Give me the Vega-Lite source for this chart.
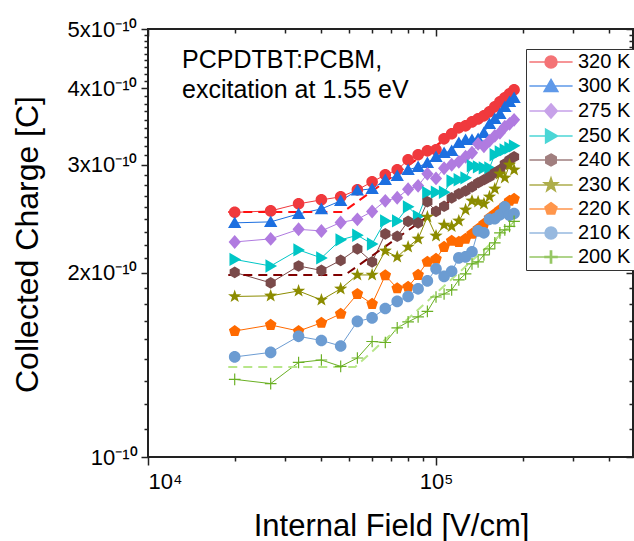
{
  "$schema": "https://vega.github.io/schema/vega-lite/v6.json",
  "autosize": {"type": "none"},
  "padding": {"left": 148, "top": 29, "right": 1, "bottom": 84},
  "width": 485,
  "height": 428,
  "background": "white",
  "config": {
    "view": {"stroke": "#222", "strokeWidth": 2},
    "font": "Liberation Sans",
    "axis": {"grid": false, "domain": false, "tickColor": "#222", "tickWidth": 1.5, "labelColor": "#000", "titleColor": "#000", "titleFontWeight": "normal", "labelFont": "Liberation Sans", "titleFont": "Liberation Sans"},
    "legend": {"title": null, "orient": "none", "legendX": 378, "legendY": 20, "strokeColor": "#333", "fillColor": "white", "padding": 3,
      "labelFont": "Liberation Sans", "labelFontSize": 20, "labelColor": "#000", "labelLimit": 200, "symbolSize": 144, "symbolStrokeWidth": 1.5, "symbolOffset": 12, "labelOffset": 17, "rowPadding": 4}
  },
  "datasets": {
    "series": [
    {"T":"320 K","E":20000,"Q":2.509e-10},{"T":"320 K","E":26667,"Q":2.523e-10},{"T":"320 K","E":33333,"Q":2.591e-10},{"T":"320 K","E":40000,"Q":2.630e-10},{"T":"320 K","E":46667,"Q":2.660e-10},{"T":"320 K","E":53333,"Q":2.731e-10},{"T":"320 K","E":60000,"Q":2.814e-10},{"T":"320 K","E":66667,"Q":2.889e-10},{"T":"320 K","E":73333,"Q":2.944e-10},{"T":"320 K","E":80000,"Q":3.057e-10},{"T":"320 K","E":86667,"Q":3.116e-10},{"T":"320 K","E":93333,"Q":3.162e-10},{"T":"320 K","E":100000,"Q":3.174e-10},{"T":"320 K","E":106667,"Q":3.308e-10},{"T":"320 K","E":113333,"Q":3.372e-10},{"T":"320 K","E":120000,"Q":3.448e-10},{"T":"320 K","E":126667,"Q":3.474e-10},{"T":"320 K","E":133333,"Q":3.526e-10},{"T":"320 K","E":140000,"Q":3.566e-10},{"T":"320 K","E":146667,"Q":3.607e-10},{"T":"320 K","E":153333,"Q":3.662e-10},{"T":"320 K","E":160000,"Q":3.731e-10},{"T":"320 K","E":166667,"Q":3.802e-10},{"T":"320 K","E":173333,"Q":3.860e-10},{"T":"320 K","E":180000,"Q":3.919e-10},{"T":"320 K","E":186667,"Q":3.978e-10},
    {"T":"300 K","E":20000,"Q":2.412e-10},{"T":"300 K","E":26667,"Q":2.421e-10},{"T":"300 K","E":33333,"Q":2.495e-10},{"T":"300 K","E":40000,"Q":2.542e-10},{"T":"300 K","E":46667,"Q":2.620e-10},{"T":"300 K","E":53333,"Q":2.726e-10},{"T":"300 K","E":60000,"Q":2.741e-10},{"T":"300 K","E":66667,"Q":2.836e-10},{"T":"300 K","E":73333,"Q":2.879e-10},{"T":"300 K","E":80000,"Q":2.944e-10},{"T":"300 K","E":86667,"Q":2.977e-10},{"T":"300 K","E":93333,"Q":3.023e-10},{"T":"300 K","E":100000,"Q":3.092e-10},{"T":"300 K","E":106667,"Q":3.139e-10},{"T":"300 K","E":113333,"Q":3.162e-10},{"T":"300 K","E":120000,"Q":3.259e-10},{"T":"300 K","E":126667,"Q":3.296e-10},{"T":"300 K","E":133333,"Q":3.296e-10},{"T":"300 K","E":140000,"Q":3.308e-10},{"T":"300 K","E":146667,"Q":3.384e-10},{"T":"300 K","E":153333,"Q":3.500e-10},{"T":"300 K","E":160000,"Q":3.566e-10},{"T":"300 K","E":166667,"Q":3.634e-10},{"T":"300 K","E":173333,"Q":3.731e-10},{"T":"300 K","E":180000,"Q":3.802e-10},{"T":"300 K","E":186667,"Q":3.860e-10},
    {"T":"275 K","E":20000,"Q":2.245e-10},{"T":"275 K","E":26667,"Q":2.271e-10},{"T":"275 K","E":33333,"Q":2.354e-10},{"T":"275 K","E":40000,"Q":2.340e-10},{"T":"275 K","E":46667,"Q":2.416e-10},{"T":"275 K","E":53333,"Q":2.444e-10},{"T":"275 K","E":60000,"Q":2.518e-10},{"T":"275 K","E":66667,"Q":2.620e-10},{"T":"275 K","E":73333,"Q":2.650e-10},{"T":"275 K","E":80000,"Q":2.736e-10},{"T":"275 K","E":86667,"Q":2.772e-10},{"T":"275 K","E":93333,"Q":2.900e-10},{"T":"275 K","E":100000,"Q":2.851e-10},{"T":"275 K","E":106667,"Q":2.961e-10},{"T":"275 K","E":113333,"Q":3.000e-10},{"T":"275 K","E":120000,"Q":3.034e-10},{"T":"275 K","E":126667,"Q":3.092e-10},{"T":"275 K","E":133333,"Q":3.139e-10},{"T":"275 K","E":140000,"Q":3.246e-10},{"T":"275 K","E":146667,"Q":3.216e-10},{"T":"275 K","E":153333,"Q":3.283e-10},{"T":"275 K","E":160000,"Q":3.345e-10},{"T":"275 K","E":166667,"Q":3.384e-10},{"T":"275 K","E":173333,"Q":3.461e-10},{"T":"275 K","E":180000,"Q":3.500e-10},{"T":"275 K","E":186667,"Q":3.553e-10},
    {"T":"250 K","E":20000,"Q":2.102e-10},{"T":"250 K","E":26667,"Q":2.051e-10},{"T":"250 K","E":33333,"Q":2.179e-10},{"T":"250 K","E":40000,"Q":2.114e-10},{"T":"250 K","E":46667,"Q":2.263e-10},{"T":"250 K","E":53333,"Q":2.302e-10},{"T":"250 K","E":60000,"Q":2.228e-10},{"T":"250 K","E":66667,"Q":2.430e-10},{"T":"250 K","E":73333,"Q":2.430e-10},{"T":"250 K","E":80000,"Q":2.562e-10},{"T":"250 K","E":86667,"Q":2.472e-10},{"T":"250 K","E":93333,"Q":2.701e-10},{"T":"250 K","E":100000,"Q":2.706e-10},{"T":"250 K","E":106667,"Q":2.706e-10},{"T":"250 K","E":113333,"Q":2.825e-10},{"T":"250 K","E":120000,"Q":2.836e-10},{"T":"250 K","E":126667,"Q":2.857e-10},{"T":"250 K","E":133333,"Q":2.988e-10},{"T":"250 K","E":140000,"Q":2.977e-10},{"T":"250 K","E":146667,"Q":2.966e-10},{"T":"250 K","E":153333,"Q":2.966e-10},{"T":"250 K","E":160000,"Q":3.116e-10},{"T":"250 K","E":166667,"Q":3.150e-10},{"T":"250 K","E":173333,"Q":3.174e-10},{"T":"250 K","E":180000,"Q":3.198e-10},{"T":"250 K","E":186667,"Q":3.222e-10},
    {"T":"240 K","E":20000,"Q":2.002e-10},{"T":"240 K","E":26667,"Q":1.925e-10},{"T":"240 K","E":33333,"Q":2.051e-10},{"T":"240 K","E":40000,"Q":2.017e-10},{"T":"240 K","E":46667,"Q":2.095e-10},{"T":"240 K","E":53333,"Q":2.187e-10},{"T":"240 K","E":60000,"Q":2.083e-10},{"T":"240 K","E":66667,"Q":2.314e-10},{"T":"240 K","E":73333,"Q":2.293e-10},{"T":"240 K","E":80000,"Q":2.426e-10},{"T":"240 K","E":86667,"Q":2.412e-10},{"T":"240 K","E":93333,"Q":2.611e-10},{"T":"240 K","E":100000,"Q":2.518e-10},{"T":"240 K","E":106667,"Q":2.567e-10},{"T":"240 K","E":113333,"Q":2.650e-10},{"T":"240 K","E":120000,"Q":2.690e-10},{"T":"240 K","E":126667,"Q":2.720e-10},{"T":"240 K","E":133333,"Q":2.762e-10},{"T":"240 K","E":140000,"Q":2.804e-10},{"T":"240 K","E":146667,"Q":2.836e-10},{"T":"240 K","E":153333,"Q":2.868e-10},{"T":"240 K","E":160000,"Q":2.911e-10},{"T":"240 K","E":166667,"Q":2.944e-10},{"T":"240 K","E":173333,"Q":3.011e-10},{"T":"240 K","E":180000,"Q":3.057e-10},{"T":"240 K","E":186667,"Q":3.092e-10},
    {"T":"230 K","E":20000,"Q":1.829e-10},{"T":"230 K","E":26667,"Q":1.833e-10},{"T":"230 K","E":33333,"Q":1.867e-10},{"T":"230 K","E":40000,"Q":1.805e-10},{"T":"230 K","E":46667,"Q":1.882e-10},{"T":"230 K","E":53333,"Q":1.983e-10},{"T":"230 K","E":60000,"Q":1.983e-10},{"T":"230 K","E":66667,"Q":2.171e-10},{"T":"230 K","E":73333,"Q":2.122e-10},{"T":"230 K","E":80000,"Q":2.203e-10},{"T":"230 K","E":86667,"Q":2.271e-10},{"T":"230 K","E":93333,"Q":2.466e-10},{"T":"230 K","E":100000,"Q":2.297e-10},{"T":"230 K","E":106667,"Q":2.393e-10},{"T":"230 K","E":113333,"Q":2.380e-10},{"T":"230 K","E":120000,"Q":2.430e-10},{"T":"230 K","E":126667,"Q":2.533e-10},{"T":"230 K","E":133333,"Q":2.620e-10},{"T":"230 K","E":140000,"Q":2.611e-10},{"T":"230 K","E":146667,"Q":2.591e-10},{"T":"230 K","E":153333,"Q":2.660e-10},{"T":"230 K","E":160000,"Q":2.741e-10},{"T":"230 K","E":166667,"Q":2.900e-10},{"T":"230 K","E":173333,"Q":2.857e-10},{"T":"230 K","E":180000,"Q":3.000e-10},{"T":"230 K","E":186667,"Q":2.944e-10},
    {"T":"220 K","E":20000,"Q":1.606e-10},{"T":"220 K","E":26667,"Q":1.643e-10},{"T":"220 K","E":33333,"Q":1.606e-10},{"T":"220 K","E":40000,"Q":1.656e-10},{"T":"220 K","E":46667,"Q":1.713e-10},{"T":"220 K","E":53333,"Q":1.846e-10},{"T":"220 K","E":60000,"Q":1.778e-10},{"T":"220 K","E":66667,"Q":1.980e-10},{"T":"220 K","E":73333,"Q":1.885e-10},{"T":"220 K","E":80000,"Q":1.896e-10},{"T":"220 K","E":86667,"Q":1.983e-10},{"T":"220 K","E":93333,"Q":2.083e-10},{"T":"220 K","E":100000,"Q":2.106e-10},{"T":"220 K","E":106667,"Q":2.203e-10},{"T":"220 K","E":113333,"Q":2.254e-10},{"T":"220 K","E":120000,"Q":2.245e-10},{"T":"220 K","E":126667,"Q":2.271e-10},{"T":"220 K","E":133333,"Q":2.314e-10},{"T":"220 K","E":140000,"Q":2.358e-10},{"T":"220 K","E":146667,"Q":2.403e-10},{"T":"220 K","E":153333,"Q":2.458e-10},{"T":"220 K","E":160000,"Q":2.495e-10},{"T":"220 K","E":166667,"Q":2.533e-10},{"T":"220 K","E":173333,"Q":2.571e-10},{"T":"220 K","E":180000,"Q":2.620e-10},{"T":"220 K","E":186667,"Q":2.640e-10},
    {"T":"210 K","E":20000,"Q":1.457e-10},{"T":"210 K","E":26667,"Q":1.482e-10},{"T":"210 K","E":33333,"Q":1.574e-10},{"T":"210 K","E":40000,"Q":1.550e-10},{"T":"210 K","E":46667,"Q":1.518e-10},{"T":"210 K","E":53333,"Q":1.665e-10},{"T":"210 K","E":60000,"Q":1.687e-10},{"T":"210 K","E":66667,"Q":1.748e-10},{"T":"210 K","E":73333,"Q":1.795e-10},{"T":"210 K","E":80000,"Q":1.829e-10},{"T":"210 K","E":86667,"Q":1.882e-10},{"T":"210 K","E":93333,"Q":1.939e-10},{"T":"210 K","E":100000,"Q":2.029e-10},{"T":"210 K","E":106667,"Q":1.972e-10},{"T":"210 K","E":113333,"Q":2.010e-10},{"T":"210 K","E":120000,"Q":2.114e-10},{"T":"210 K","E":126667,"Q":2.122e-10},{"T":"210 K","E":133333,"Q":2.163e-10},{"T":"210 K","E":140000,"Q":2.340e-10},{"T":"210 K","E":146667,"Q":2.323e-10},{"T":"210 K","E":153333,"Q":2.444e-10},{"T":"210 K","E":160000,"Q":2.449e-10},{"T":"210 K","E":166667,"Q":2.486e-10},{"T":"210 K","E":173333,"Q":2.562e-10},{"T":"210 K","E":180000,"Q":2.481e-10},{"T":"210 K","E":186667,"Q":2.499e-10},
    {"T":"200 K","E":20000,"Q":1.339e-10},{"T":"200 K","E":26667,"Q":1.318e-10},{"T":"200 K","E":33333,"Q":1.427e-10},{"T":"200 K","E":40000,"Q":1.440e-10},{"T":"200 K","E":46667,"Q":1.406e-10},{"T":"200 K","E":53333,"Q":1.451e-10},{"T":"200 K","E":60000,"Q":1.544e-10},{"T":"200 K","E":66667,"Q":1.538e-10},{"T":"200 K","E":73333,"Q":1.625e-10},{"T":"200 K","E":80000,"Q":1.662e-10},{"T":"200 K","E":86667,"Q":1.694e-10},{"T":"200 K","E":93333,"Q":1.729e-10},{"T":"200 K","E":100000,"Q":1.825e-10},{"T":"200 K","E":106667,"Q":1.846e-10},{"T":"200 K","E":113333,"Q":1.875e-10},{"T":"200 K","E":120000,"Q":1.946e-10},{"T":"200 K","E":126667,"Q":1.991e-10},{"T":"200 K","E":133333,"Q":2.067e-10},{"T":"200 K","E":140000,"Q":2.083e-10},{"T":"200 K","E":146667,"Q":2.138e-10},{"T":"200 K","E":153333,"Q":2.187e-10},{"T":"200 K","E":160000,"Q":2.237e-10},{"T":"200 K","E":166667,"Q":2.323e-10},{"T":"200 K","E":173333,"Q":2.349e-10},{"T":"200 K","E":180000,"Q":2.380e-10},{"T":"200 K","E":186667,"Q":2.426e-10}
    ]
  },
  "data": {"name": "series"},
  "resolve": {"axis": {"x": "independent", "y": "independent"}},
  "layer": [
    {
      "transform": [{"filter": "datum.E < 0"}],
      "mark": {"type": "point", "filled": true, "strokeWidth": 1.5, "size": 144},
      "encoding": {
        "color": {"field": "T", "type": "nominal",
          "scale": {"domain": ["320 K","300 K","275 K","250 K","240 K","230 K","220 K","210 K","200 K"], "range": ["#F0393D","#1C6FE0","#B07BE0","#00C6C6","#7A4A4A","#8C8C00","#FF6A00","#6C9CD2","#6AB023"]}},
        "stroke": {"field": "T", "type": "nominal",
          "scale": {"domain": ["320 K","300 K","275 K","250 K","240 K","230 K","220 K","210 K","200 K"], "range": ["#F0393D","#1C6FE0","#B07BE0","#00C6C6","#7A4A4A","#8C8C00","#FF6A00","#6C9CD2","#6AB023"]}},
        "shape": {"field": "T", "type": "nominal",
          "scale": {"domain": ["320 K","300 K","275 K","250 K","240 K","230 K","220 K","210 K","200 K"],
            "range": [
              "M-3.6,0L3.6,0M1,0A1,1,0,1,1,-1,0A1,1,0,1,1,1,0Z",
              "M-3.6,0L3.6,0M0,-1.1L1.15,0.9L-1.15,0.9Z",
              "M-3.6,0L3.6,0M0,-1.2L1.05,0L0,1.2L-1.05,0Z",
              "M-3.6,0L3.6,0M-0.9,-1.15L1.1,0L-0.9,1.15Z",
              "M-3.6,0L3.6,0M0,-1L0.87,-0.5L0.87,0.5L0,1L-0.87,0.5L-0.87,-0.5Z",
              "M-3.6,0L3.6,0M0,-1.2L0.28,-0.39L1.14,-0.37L0.46,0.15L0.71,0.97L0,0.48L-0.71,0.97L-0.46,0.15L-1.14,-0.37L-0.28,-0.39Z",
              "M-3.6,0L3.6,0M0,-1.05L1,-0.32L0.62,0.85L-0.62,0.85L-1,-0.32Z",
              "M-3.6,0L3.6,0M1,0A1,1,0,1,1,-1,0A1,1,0,1,1,1,0Z",
              "M-3.6,0L3.6,0M-1,-0.1L-0.1,-0.1L-0.1,-1L0.1,-1L0.1,-0.1L1,-0.1L1,0.1L0.1,0.1L0.1,1L-0.1,1L-0.1,0.1L-1,0.1Z"
            ]}}
      }
    },
    {
      "mark": {"type": "line", "strokeWidth": 1},
      "encoding": {
        "x": {"field": "E", "type": "quantitative", "scale": {"type": "log", "domain": [10000, 483000], "nice": false},
          "axis": {"orient": "bottom", "values": [10000, 100000], "tickSize": 8, "labelFontSize": 22, "labelPadding": 6,
            "labelExpr": "datum.value < 50000 ? '10⁴' : '10⁵'",
            "title": "Internal Field [V/cm]", "titleFontSize": 31, "titleX": 243, "titleY": 78, "titleBaseline": "alphabetic", "titleAlign": "center"}},
        "y": {"field": "Q", "type": "quantitative", "scale": {"type": "log", "domain": [1e-10, 5e-10], "nice": false, "zero": false},
          "axis": {"orient": "left", "values": [1e-10, 2e-10, 3e-10, 4e-10, 5e-10], "tickSize": 7, "labelFontSize": 22, "labelPadding": 4,
            "labelExpr": "datum.value < 1.5e-10 ? '10⁻¹⁰' : format(datum.value * 1e10, '.0f') + 'x10⁻¹⁰'",
            "title": "Collected Charge [C]", "titleFontSize": 32, "titleAngle": 270, "titleX": -111, "titleY": 215, "titleBaseline": "alphabetic", "titleAlign": "center"}},
        "stroke": {"field": "T", "type": "nominal"}
      }
    },
    {
      "data": {"values": [{"F":"a","E":19000,"Q":2.513e-10},{"F":"a","E":47500,"Q":2.513e-10},{"F":"a","E":185000,"Q":3.963e-10}]},
      "mark": {"type": "line", "strokeWidth": 2, "strokeDash": [9, 6], "color": "#FF1010"},
      "encoding": {
        "x": {"field": "E", "type": "quantitative", "axis": {"orient": "bottom", "offset": -428, "values": [10000, 100000], "tickSize": 7, "labels": false, "title": null}},
        "y": {"field": "Q", "type": "quantitative", "axis": {"orient": "left", "offset": -485, "values": [1e-10, 2e-10, 3e-10, 4e-10, 5e-10], "tickSize": 7, "labels": false, "title": null}}
      }
    },
    {
      "data": {"values": [{"F":"b","E":19000,"Q":1.983e-10},{"F":"b","E":48300,"Q":1.983e-10},{"F":"b","E":188000,"Q":3.115e-10}]},
      "mark": {"type": "line", "strokeWidth": 2, "strokeDash": [9, 6], "color": "#800000"},
      "encoding": {
        "x": {"field": "E", "type": "quantitative", "axis": {"orient": "bottom", "offset": -428, "values": [20000,30000,40000,50000,60000,70000,80000,90000,200000,300000,400000], "tickSize": 4, "labels": false, "title": null}},
        "y": {"field": "Q", "type": "quantitative", "axis": {"orient": "left", "offset": -485, "values": [1.111e-10,1.222e-10,1.333e-10,1.444e-10,1.556e-10,1.667e-10,1.778e-10,1.889e-10,2.111e-10,2.222e-10,2.333e-10,2.444e-10,2.556e-10,2.667e-10,2.778e-10,2.889e-10,3.111e-10,3.222e-10,3.333e-10,3.444e-10,3.556e-10,3.667e-10,3.778e-10,3.889e-10,4.111e-10,4.222e-10,4.333e-10,4.444e-10,4.556e-10,4.667e-10,4.778e-10,4.889e-10], "tickSize": 4, "labels": false, "title": null}}
      }
    },
    {
      "data": {"values": [{"F":"c","E":19000,"Q":1.403e-10},{"F":"c","E":52400,"Q":1.403e-10},{"F":"c","E":185300,"Q":2.409e-10}]},
      "mark": {"type": "line", "strokeWidth": 2, "strokeDash": [9, 6], "color": "#B8E68A"},
      "encoding": {
        "x": {"field": "E", "type": "quantitative", "axis": null},
        "y": {"field": "Q", "type": "quantitative", "axis": null}
      }
    },
    {
      "mark": {"type": "point", "filled": true, "size": 135, "opacity": 1},
      "encoding": {
        "x": {"field": "E", "type": "quantitative", "axis": {"orient": "bottom", "values": [20000,30000,40000,50000,60000,70000,80000,90000,200000,300000,400000], "tickSize": 4, "labels": false, "title": null}},
        "y": {"field": "Q", "type": "quantitative", "axis": {"orient": "left", "values": [1.111e-10,1.222e-10,1.333e-10,1.444e-10,1.556e-10,1.667e-10,1.778e-10,1.889e-10,2.111e-10,2.222e-10,2.333e-10,2.444e-10,2.556e-10,2.667e-10,2.778e-10,2.889e-10,3.111e-10,3.222e-10,3.333e-10,3.444e-10,3.556e-10,3.667e-10,3.778e-10,3.889e-10,4.111e-10,4.222e-10,4.333e-10,4.444e-10,4.556e-10,4.667e-10,4.778e-10,4.889e-10], "tickSize": 4, "labels": false, "title": null}},
        "color": {"field": "T", "type": "nominal"},
        "shape": {"field": "T", "type": "nominal"}
      }
    },
    {
      "data": {"values": [{"label": "PCPDTBT:PCBM,\nexcitation at 1.55 eV"}]},
      "mark": {"type": "text", "align": "left", "baseline": "alphabetic", "fontSize": 25, "font": "Liberation Sans", "lineHeight": 30, "lineBreak": "\n", "color": "#000"},
      "encoding": {
        "x": {"datum": 13130, "type": "quantitative", "axis": null},
        "y": {"datum": 4.316e-10, "type": "quantitative", "axis": null},
        "text": {"field": "label"}
      }
    }
  ]
}
